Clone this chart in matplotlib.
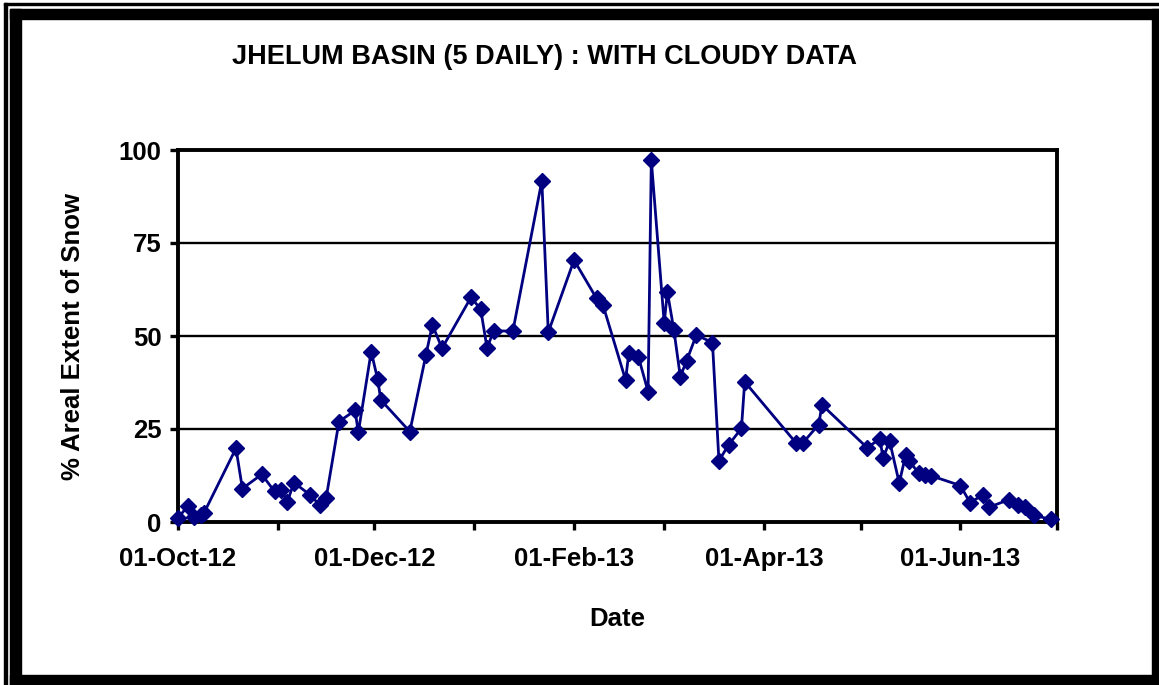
import matplotlib
matplotlib.use("Agg")
import matplotlib.pyplot as plt
import matplotlib.dates as mdates
import matplotlib.patches as patches
import pandas as pd

plt.rcParams['font.family'] = ['Liberation Sans', 'DejaVu Sans']
plt.rcParams['font.weight'] = 'bold'

# 5-daily snow cover (with cloudy data)
dates = [
    "2012-10-01", "2012-10-04", "2012-10-06", "2012-10-08", "2012-10-09",
    "2012-10-19", "2012-10-21", "2012-10-27", "2012-10-31", "2012-11-02",
    "2012-11-04", "2012-11-06", "2012-11-11", "2012-11-14", "2012-11-16",
    "2012-11-20", "2012-11-25", "2012-11-26", "2012-11-30", "2012-12-02",
    "2012-12-03", "2012-12-12", "2012-12-17", "2012-12-19", "2012-12-22",
    "2012-12-31", "2013-01-03", "2013-01-05", "2013-01-07", "2013-01-13",
    "2013-01-22", "2013-01-24", "2013-02-01", "2013-02-08", "2013-02-10",
    "2013-02-17", "2013-02-18", "2013-02-21", "2013-02-24", "2013-02-25",
    "2013-03-01", "2013-03-02", "2013-03-04", "2013-03-06", "2013-03-08",
    "2013-03-11", "2013-03-16", "2013-03-18", "2013-03-21", "2013-03-25",
    "2013-03-26", "2013-04-11", "2013-04-13", "2013-04-18", "2013-04-19",
    "2013-05-03", "2013-05-07", "2013-05-08", "2013-05-10", "2013-05-13",
    "2013-05-15", "2013-05-16", "2013-05-19", "2013-05-21", "2013-05-23",
    "2013-06-01", "2013-06-04", "2013-06-08", "2013-06-10", "2013-06-16",
    "2013-06-19", "2013-06-21", "2013-06-24", "2013-06-29",
]
snow = [
    1.0, 4.3, 1.3, 1.9, 2.3,
    19.8, 9.0, 12.8, 8.2, 8.6,
    5.5, 10.6, 7.3, 4.6, 6.4,
    27.0, 30.0, 24.1, 45.8, 38.4,
    32.8, 24.3, 44.9, 53.0, 46.7,
    60.4, 57.2, 46.7, 51.4, 51.3,
    91.7, 51.0, 70.4, 60.1, 58.3,
    38.2, 45.3, 44.4, 35.0, 97.3,
    53.5, 61.8, 51.7, 39.1, 43.4,
    50.3, 48.2, 16.5, 20.7, 25.2,
    37.7, 21.2, 21.2, 26.2, 31.5,
    20.0, 22.3, 17.1, 21.8, 10.5,
    18.0, 16.5, 13.2, 12.6, 12.4,
    9.8, 5.2, 7.3, 4.0, 6.0,
    4.5, 4.0, 1.8, 0.7,
]
yticks = [0, 25, 50, 75, 100]

title = "JHELUM BASIN (5 DAILY) : WITH CLOUDY DATA"

x = pd.to_datetime(dates)

fig = plt.figure(figsize=(11.59, 6.85), dpi=100)
ax = fig.add_axes([178/1159, 1 - 522/685, (1057 - 178)/1159, (522 - 150)/685])

ax.plot(x, snow, color='#000080', lw=2.0, marker='D', ms=8.3, mew=1, mec='#000080', mfc='#000080',
        clip_on=False, zorder=3)

ax.set_xlim(pd.Timestamp("2012-10-01"), pd.Timestamp("2013-07-01"))
ax.set_ylim(0, 100)
ax.set_yticks(yticks)
for v in yticks[1:-1]:
    ax.axhline(v, color='black', lw=1.7, zorder=1)

ax.xaxis.set_major_locator(mdates.MonthLocator(bymonth=[10, 12, 2, 4, 6]))
ax.xaxis.set_minor_locator(mdates.MonthLocator())
ax.xaxis.set_major_formatter(mdates.DateFormatter('%d-%b-%y'))

for s in ax.spines.values():
    s.set_linewidth(2.8)
ax.tick_params(axis='both', which='both', direction='out', length=6, width=2.4, labelsize=18.5)
ax.tick_params(axis='x', pad=12)
ax.tick_params(axis='y', pad=6)

ax.set_xlabel('Date', fontsize=18.5, fontweight='bold', labelpad=26)
ax.set_ylabel('% Areal Extent of Snow', fontsize=18.5, fontweight='bold', labelpad=24)

fig.text(545/1159, 1 - 57/685, title, ha='center', va='center', fontsize=19.5, fontweight='bold')

# picture frame around the chart
def px_rect(x0, y0, x1, y1):
    fig.patches.append(patches.Rectangle((x0/1159, 1 - y1/685), (x1 - x0)/1159, (y1 - y0)/685,
                                         transform=fig.transFigure, color='black', zorder=10))

px_rect(10, 9, 1159, 19)      # top band
px_rect(10, 9, 21, 685)       # left band
px_rect(1152, 9, 1159, 685)   # right band
px_rect(10, 675, 1159, 685)   # bottom band
px_rect(4, 3, 1159, 5)        # outer thin top line
px_rect(4, 3, 6.5, 685)       # outer thin left line

fig.savefig('out.png', dpi=100)
